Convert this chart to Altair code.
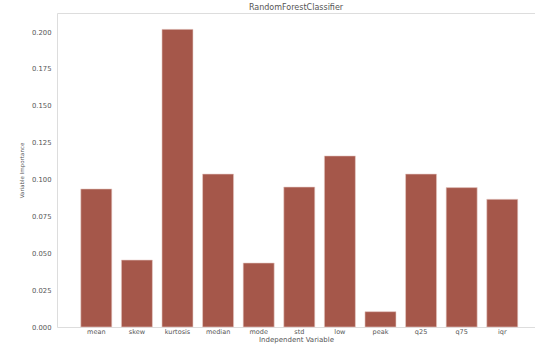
import altair as alt
import pandas as pd

features = ["mean", "skew", "kurtosis", "median", "mode", "std", "low", "peak", "q25", "q75", "iqr"]
importance = [0.0936, 0.0454, 0.2018, 0.1037, 0.0434, 0.0949, 0.1160, 0.0104, 0.1037, 0.0945, 0.0866]

df = pd.DataFrame({"feature": features, "importance": importance})

FONT = "DejaVu Sans"
TXT = "#555555"

chart = alt.Chart(df).mark_bar(color="#a5574a", stroke="#e9cfc9", strokeWidth=0.6).encode(
    x=alt.X("feature:N", sort=features,
            scale=alt.Scale(paddingInner=0.236, paddingOuter=0.505, align=0.58),
            axis=alt.Axis(title="Independent Variable", labelAngle=0, domain=False, ticks=False,
                          labelPadding=1.5, labelFontSize=6.5, labelColor=TXT, labelFont=FONT,
                          titleFontSize=7, titleFont=FONT, titleColor=TXT, titleFontWeight="normal",
                          titlePadding=0)),
    y=alt.Y("importance:Q", scale=alt.Scale(domain=[0, 0.2129], nice=False, zero=True),
            axis=alt.Axis(title="Variable Importance", values=[0, 0.025, 0.05, 0.075, 0.1, 0.125, 0.15, 0.175, 0.2],
                          format=".3f", grid=False, domain=False, ticks=False, labelPadding=6,
                          labelFontSize=6.8, labelColor=TXT, labelFont=FONT,
                          titleFontSize=5.5, titleFont=FONT, titleColor=TXT, titleFontWeight="normal",
                          titlePadding=7)),
).properties(
    width=478, height=314,
    title=alt.TitleParams("RandomForestClassifier", fontSize=8, font=FONT, color=TXT,
                          fontWeight="normal", anchor="middle", offset=1.5),
    padding={"left": 57, "top": 13, "right": 0, "bottom": 17},
    autosize=alt.AutoSizeParams(type="none"),
).configure_view(stroke="#ebebeb", strokeWidth=1).configure(background="white")

chart.save("out.html", embed_options={"renderer": "svg", "actions": False})
